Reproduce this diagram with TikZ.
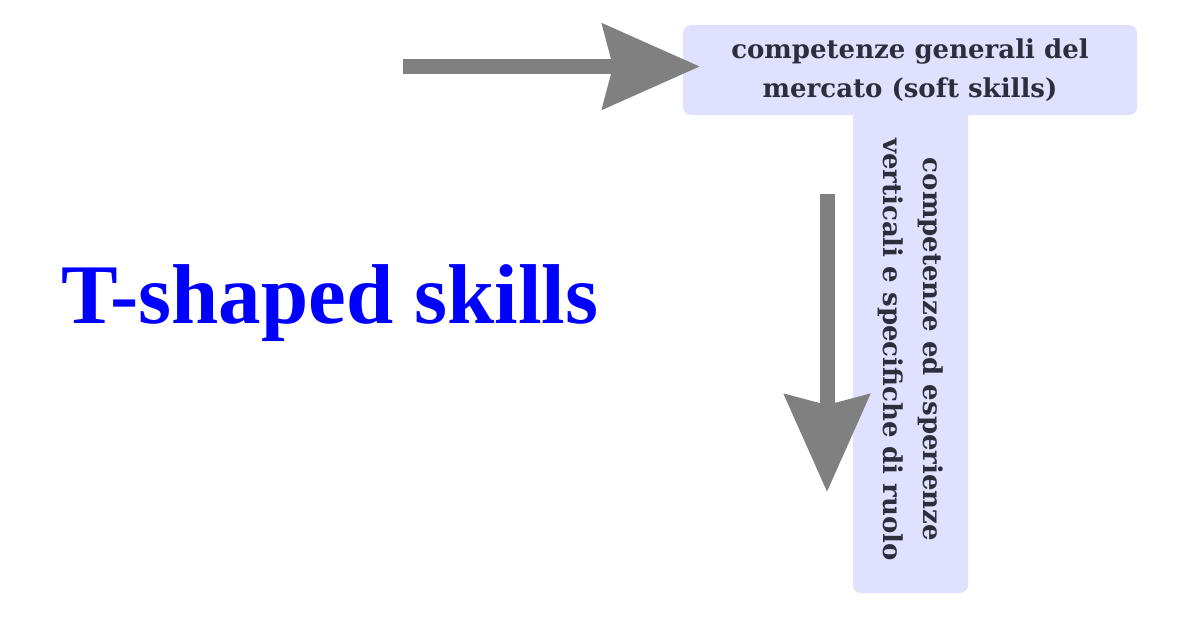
\documentclass[tikz,border=0pt]{standalone}
\usepackage{fontspec}
\setmainfont{DejaVu Serif}
\newfontfamily\titlefont{Liberation Serif}
\usetikzlibrary{arrows.meta}

\definecolor{boxFill}{RGB}{224,224,255}
\definecolor{boxText}{RGB}{45,46,60}
\definecolor{arrowGray}{RGB}{128,128,128}

\begin{document}
\begin{tikzpicture}
[grayArrow/.style={-{Stealth[length=1.94cm,width=1.68cm,inset=0.2cm]},line width=0.3cm,color=arrowGray},%
  skillBox/.style={shape=rectangle,rounded corners=0.16cm,fill=boxFill,text=boxText,
    font=\fontsize{14.8}{22.5}\selectfont\bfseries,align=center,inner sep=0pt},%
  titleText/.style={text=blue,font=\titlefont\fontsize{48.3}{50}\selectfont\bfseries,inner sep=0pt}]
\useasboundingbox (0,0) rectangle (24,-12.4);
%% boxes of the T
\node (stemBox) at (18.21,-6.99) [skillBox,rotate=-90,minimum width=9.74cm,minimum height=2.3cm]
  {competenze ed esperienze\\verticali e specifiche di ruolo};
\node (topBox) at (18.2,-1.4) [skillBox,minimum width=9.08cm,minimum height=1.8cm]
  {competenze generali del\\mercato (soft skills)};
%% title
\node (title) at (6.6,-6.46) [titleText,anchor=base] {T-shaped skills};
%% arrows
\foreach \nodename/\x/\y in {hStart/8.06/-1.33, hEnd/14.0/-1.33, vStart/16.54/-3.88, vEnd/16.54/-9.84}
{
  \coordinate (\nodename) at (\x,\y);
}
\foreach \startnode/\endnode in {hStart/hEnd, vStart/vEnd}
{
  \draw[grayArrow] (\startnode) -- (\endnode);
}
\end{tikzpicture}
\end{document}
